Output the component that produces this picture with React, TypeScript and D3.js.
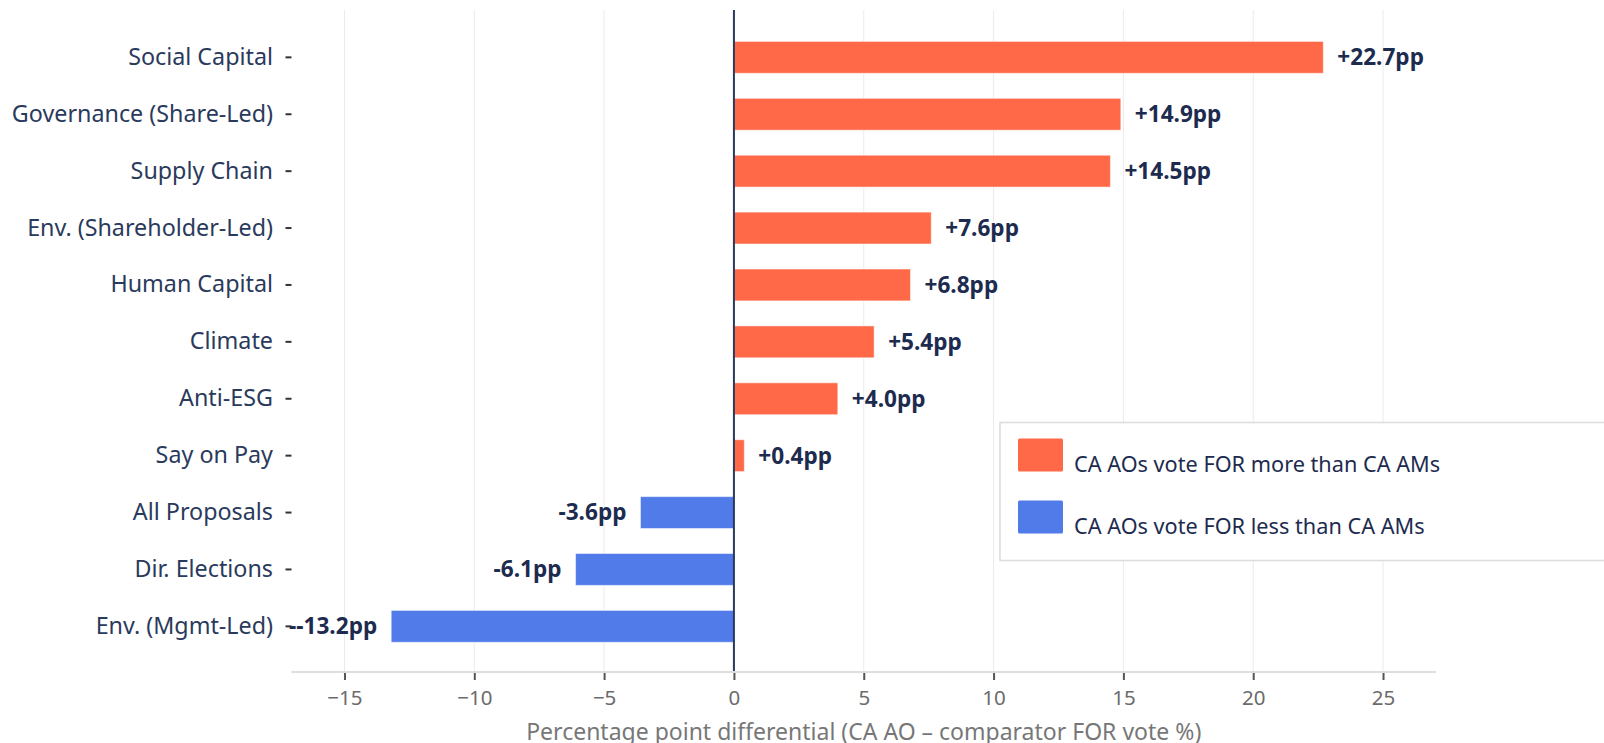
import React, { useEffect, useRef } from 'react';
import * as d3 from 'd3';

const categories = [
  'Social Capital',
  'Governance (Share-Led)',
  'Supply Chain',
  'Env. (Shareholder-Led)',
  'Human Capital',
  'Climate',
  'Anti-ESG',
  'Say on Pay',
  'All Proposals',
  'Dir. Elections',
  'Env. (Mgmt-Led)',
];
const values = [22.7, 14.9, 14.5, 7.6, 6.8, 5.4, 4.0, 0.4, -3.6, -6.1, -13.2];
const valueLabels = ['+22.7pp', '+14.9pp', '+14.5pp', '+7.6pp', '+6.8pp', '+5.4pp', '+4.0pp', '+0.4pp', '-3.6pp', '-6.1pp', '--13.2pp'];
const xTicks = [-15, -10, -5, 0, 5, 10, 15, 20, 25];
const legendItems = ['CA AOs vote FOR more than CA AMs', 'CA AOs vote FOR less than CA AMs'];
const xTitle = 'Percentage point differential (CA AO \u2013 comparator FOR vote %)';

const W = 1604;
const H = 743;
const FONT = '"Noto Sans", sans-serif';
const POS = '#ff6948';
const NEG = '#527bea';
const NAVY = '#1d2b4f';

export default function App() {
  const ref = useRef<SVGSVGElement>(null);

  useEffect(() => {
    const svg = d3.select(ref.current);
    svg.selectAll('*').remove();

    const plot = { left: 291.5, right: 1436, top: 10, bottom: 672 };

    const x = d3.scaleLinear().domain([-17.04, 27.04]).range([plot.left, plot.right]);
    const y = d3.scaleBand<string>().domain(categories).range([28.9, 654.8]);
    const barH = y.step() * 0.56;

    // gridlines
    svg.append('g')
      .selectAll('line')
      .data(xTicks)
      .join('line')
      .attr('x1', d => x(d)).attr('x2', d => x(d))
      .attr('y1', plot.top).attr('y2', plot.bottom)
      .attr('stroke', '#ebebeb')
      .attr('stroke-width', 1);

    // bars
    svg.append('g')
      .selectAll('rect')
      .data(values)
      .join('rect')
      .attr('x', d => x(Math.min(0, d)))
      .attr('width', d => Math.abs(x(d) - x(0)))
      .attr('y', (d, i) => (y(categories[i]) as number) + (y.step() - barH) / 2)
      .attr('height', barH)
      .attr('fill', d => (d >= 0 ? POS : NEG))
      .attr('stroke', 'rgba(255,255,255,0.5)')
      .attr('stroke-width', 1);

    // value labels
    svg.append('g')
      .selectAll('text')
      .data(values)
      .join('text')
      .attr('x', d => (d >= 0 ? x(d) + 14 : x(d) - 14))
      .attr('y', (d, i) => (y(categories[i]) as number) + y.step() / 2)
      .attr('dy', '0.35em')
      .attr('text-anchor', d => (d >= 0 ? 'start' : 'end'))
      .attr('font-family', FONT)
      .attr('font-weight', 700)
      .attr('font-size', 22.6)
      .attr('fill', NAVY)
      .text((d, i) => valueLabels[i]);

    // zero line
    svg.append('line')
      .attr('x1', x(0)).attr('x2', x(0))
      .attr('y1', plot.top).attr('y2', plot.bottom)
      .attr('stroke', '#2a3a5c')
      .attr('stroke-width', 2);

    // x axis
    const xAxis = svg.append('g')
      .attr('transform', 'translate(0,' + plot.bottom + ')')
      .call(d3.axisBottom(x).tickValues(xTicks).tickSize(8).tickPadding(10).tickSizeOuter(0));
    xAxis.select('.domain').remove();
    xAxis.append('line')
      .attr('x1', plot.left).attr('x2', plot.right)
      .attr('stroke', '#dedede').attr('stroke-width', 2);
    xAxis.selectAll('.tick line').attr('stroke', '#555').attr('stroke-width', 2);
    xAxis.selectAll('.tick text')
      .attr('font-family', FONT)
      .attr('font-size', 20.5)
      .attr('fill', '#6b6b6b');

    svg.append('text')
      .attr('x', (plot.left + plot.right) / 2)
      .attr('y', 740)
      .attr('text-anchor', 'middle')
      .attr('font-family', FONT)
      .attr('font-size', 23)
      .attr('fill', '#777')
      .text(xTitle);

    // y axis
    const yAxis = svg.append('g')
      .attr('transform', 'translate(' + plot.left + ',0)')
      .call(d3.axisLeft(y).tickSize(6).tickPadding(12.5).tickSizeOuter(0));
    yAxis.select('.domain').remove();
    yAxis.selectAll('.tick line').attr('stroke', '#333').attr('stroke-width', 2);
    yAxis.selectAll('.tick text')
      .attr('font-family', FONT)
      .attr('font-size', 23.3)
      .attr('fill', '#2a3a5c');

    // legend
    const lg = svg.append('g').attr('transform', 'translate(1000,422.5)');
    lg.append('rect')
      .attr('width', 640).attr('height', 138)
      .attr('fill', 'white')
      .attr('stroke', '#dcdcdc')
      .attr('stroke-width', 1.5);
    const item = lg.selectAll('g.item')
      .data(legendItems)
      .join('g')
      .attr('class', 'item')
      .attr('transform', (d, i) => 'translate(18,' + (16 + i * 62) + ')');
    item.append('rect')
      .attr('width', 45).attr('height', 33)
      .attr('rx', 1.5)
      .attr('fill', (d, i) => (i === 0 ? POS : NEG));
    item.append('text')
      .attr('x', 56)
      .attr('y', 33)
      .attr('font-family', FONT)
      .attr('font-size', 21.7)
      .attr('fill', NAVY)
      .text(d => d);
  }, []);

  return (
    <svg
      ref={ref}
      width={W}
      height={H}
      style={{ position: 'absolute', left: 0, top: 0, background: 'white' }}
    />
  );
}
